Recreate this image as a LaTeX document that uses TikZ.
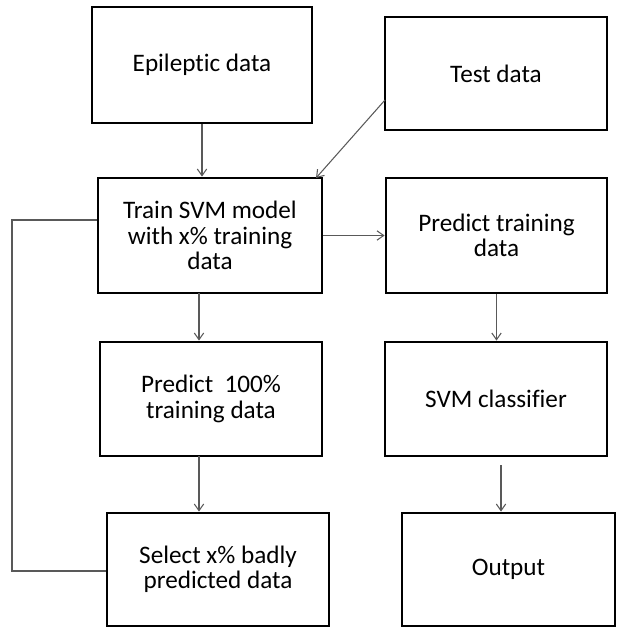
\documentclass[tikz,border=0pt]{standalone}
\usepackage{fontspec}
\setmainfont{Carlito}[Ligatures=NoCommon]
\usepackage{tikz}
\usetikzlibrary{arrows.meta,calc}

\begin{document}
\begin{tikzpicture}[x = 0.03cm, y = -0.03cm,
        box/.style = {draw, line width = 2.4pt, align = center, inner sep = 0pt,
            font = \fontsize{21.5}{21.5}\selectfont},
        conn/.style = {line width = 0.9pt, gray!70!black},
        arr/.style = {conn, -{Straight Barb[length = 2mm, width = 2.8mm]}}]
        \useasboundingbox (0, 0) rectangle (617, 628);

        \path (202, 65) node[box, minimum width = 6.6cm, minimum height = 3.48cm] (epi) {Epileptic data};
        \path (496, 73.5) node[box, minimum width = 6.66cm, minimum height = 3.39cm] (test) {Test data};
        \path (210, 235.5) node[box, minimum width = 6.72cm, minimum height = 3.45cm] (train) {Train SVM model\\with x\% training\\data};
        \path (496.5, 235.5) node[box, minimum width = 6.63cm, minimum height = 3.45cm] (predtrain) {Predict training\\data};
        \path (211, 399) node[box, minimum width = 6.66cm, minimum height = 3.42cm] (predall) {Predict\ \ 100\%\\training data};
        \path (496, 399) node[box, minimum width = 6.66cm, minimum height = 3.42cm] (svm) {SVM classifier};
        \path (218, 569.5) node[box, minimum width = 6.66cm, minimum height = 3.39cm] (select) {Select x\% badly\\predicted data};
        \path (508.5, 569.5) node[box, minimum width = 6.39cm, minimum height = 3.39cm] (out) {Output};

        % start points of the connectors
        \coordinate (testout) at (385, 100);
        \coordinate (trainin) at (316, 178);
        \coordinate (trainout) at (199, 293);
        \coordinate (predallout) at (199, 456);
        \coordinate (svmout) at (501, 465);

        \draw[arr] (epi.south) -- (epi.south |- train.north);
        \draw[arr] (testout) -- (trainin);
        \draw[arr] (train.east) -- (predtrain.west);
        \draw[arr] (trainout) -- (trainout |- predall.north);
        \draw[arr] (predallout) -- (predallout |- select.north);
        \draw[arr] (predtrain.south) -- (predtrain.south |- svm.north);
        \draw[arr] (svmout) -- (svmout |- out.north);

        % feedback loop
        \coordinate (loopbot) at (12, 571);
        \coordinate (looptop) at (12, 220);
        \draw[conn] (select.west |- loopbot) -- (loopbot) -- (looptop) -- (train.west |- looptop);
    \end{tikzpicture}
\end{document}
